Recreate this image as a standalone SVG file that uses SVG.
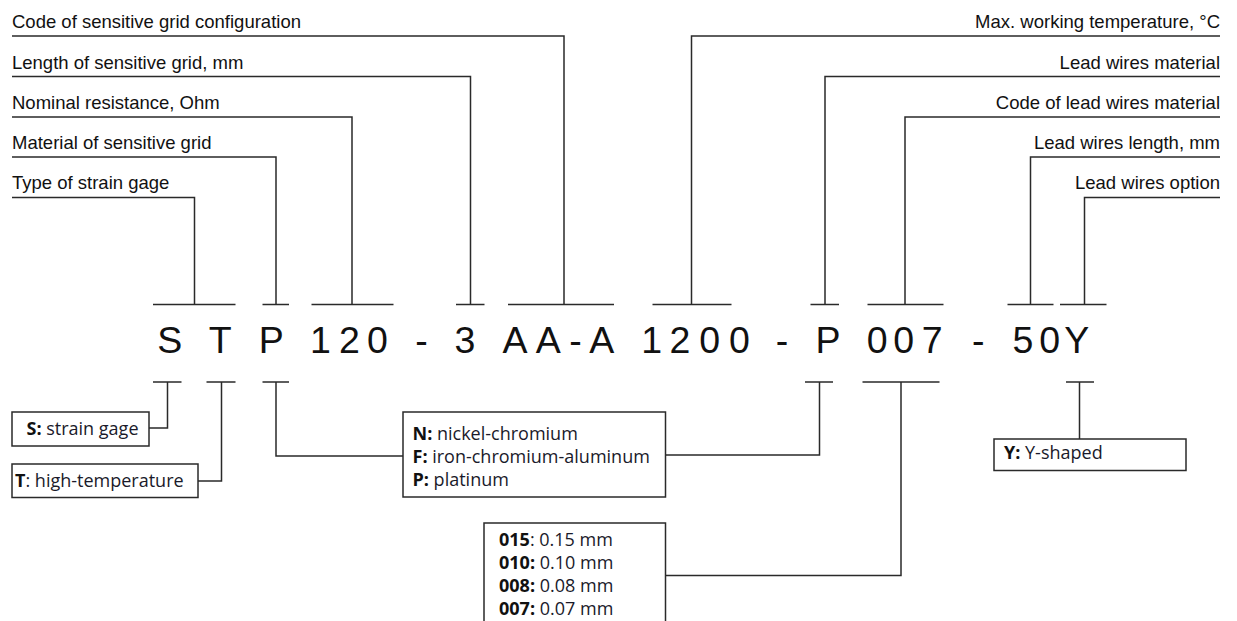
<svg xmlns="http://www.w3.org/2000/svg" width="1237" height="621" viewBox="0 0 1237 621">
<style>
.ln{fill:none;stroke:#2a2a2a;stroke-width:1.5}
.box{fill:#fff;stroke:#2a2a2a;stroke-width:1.5}
.lbl{font-family:"Liberation Sans",Arial,sans-serif;font-size:18.5px;fill:#111}
.r{text-anchor:end}
.code{font-family:"Liberation Sans",Arial,sans-serif;font-size:37.5px;fill:#111;text-anchor:middle}
.opt{font-family:"Open Sans","Noto Sans",sans-serif;font-size:18px;fill:#1a1a2a}
.b{font-weight:700;fill:#111}
</style>
<rect width="1237" height="621" fill="#fff"/>
<g id="connectors">
<!-- top left -->
<path class="ln" d="M12,197.5H194.5V304.5M153,304.5H235.5"/>
<path class="ln" d="M12,157H276V304.5M262.5,304.5H289"/>
<path class="ln" d="M12,117H352V304.5M311.5,304.5H393.5"/>
<path class="ln" d="M12,76.5H470.5V304.5M456,304.5H484.5"/>
<path class="ln" d="M12,36H564V304.5M508,304.5H614"/>
<!-- top right -->
<path class="ln" d="M1220,36H691.5V304.5M652.5,304.5H731.5"/>
<path class="ln" d="M1220,76.5H825V304.5M810.5,304.5H839"/>
<path class="ln" d="M1220,117H905V304.5M867.5,304.5H943.5"/>
<path class="ln" d="M1220,157H1030.5V304.5M1007.5,304.5H1053.5"/>
<path class="ln" d="M1220,197.5H1084.5V304.5M1060,304.5H1106.5"/>
<!-- bottom -->
<path class="ln" d="M153,382H181.5M167.5,382V428H149"/>
<path class="ln" d="M206.5,382H235.5M221.5,382V481H198"/>
<path class="ln" d="M262.5,382H289M276,382V456H403"/>
<path class="ln" d="M805,382H833M819.5,382V455H665.5"/>
<path class="ln" d="M862.5,382H939.5M901,382V575.5H665.5"/>
<path class="ln" d="M1066,382H1094M1079.5,382V439"/>
</g>
<g id="labels-left">
<text class="lbl" x="12" y="28">Code of sensitive grid configuration</text>
<text class="lbl" x="12" y="68.5">Length of sensitive grid, mm</text>
<text class="lbl" x="12" y="108.5">Nominal resistance, Ohm</text>
<text class="lbl" x="12" y="148.5">Material of sensitive grid</text>
<text class="lbl" x="12" y="188.5">Type of strain gage</text>
</g>
<g id="labels-right">
<text class="lbl r" x="1220" y="28">Max. working temperature, °C</text>
<text class="lbl r" x="1220" y="68.5">Lead wires material</text>
<text class="lbl r" x="1220" y="108.5">Code of lead wires material</text>
<text class="lbl r" x="1220" y="148.5">Lead wires length, mm</text>
<text class="lbl r" x="1220" y="188.5">Lead wires option</text>
</g>
<g id="code">
<text class="code" y="353"><tspan x="169.7">S</tspan><tspan x="220.3">T</tspan><tspan x="271.3">P</tspan><tspan x="320.4">1</tspan><tspan x="349.5">2</tspan><tspan x="377.5">0</tspan><tspan x="421.5">-</tspan><tspan x="465">3</tspan><tspan x="515">A</tspan><tspan x="548.3">A</tspan><tspan x="575.5">-</tspan><tspan x="601.7">A</tspan><tspan x="651.7">1</tspan><tspan x="680">2</tspan><tspan x="709.7">0</tspan><tspan x="739.5">0</tspan><tspan x="782">-</tspan><tspan x="828">P</tspan><tspan x="877.2">0</tspan><tspan x="903.8">0</tspan><tspan x="932.2">7</tspan><tspan x="978.3">-</tspan><tspan x="1023">5</tspan><tspan x="1049.7">0</tspan><tspan x="1076.7">Y</tspan></text>
</g>
<g id="node-s">
<rect class="box" x="12" y="412" width="137" height="34"/>
<text class="opt" x="26.5" y="435"><tspan class="b">S:</tspan> strain gage</text>
</g>
<g id="node-t">
<rect class="box" x="12" y="464" width="186" height="33.5"/>
<text class="opt" x="15" y="487"><tspan class="b">T</tspan>: high-temperature</text>
</g>
<g id="node-material">
<rect class="box" x="403" y="412" width="262.5" height="85"/>
<text class="opt" x="412.5" y="440"><tspan class="b">N:</tspan> nickel-chromium</text>
<text class="opt" x="412.5" y="463"><tspan class="b">F:</tspan> iron-chromium-aluminum</text>
<text class="opt" x="412.5" y="485.5"><tspan class="b">P:</tspan> platinum</text>
</g>
<g id="node-length">
<rect class="box" x="484" y="523" width="181.5" height="120"/>
<text class="opt" x="499" y="546"><tspan class="b">015</tspan>: 0.15 mm</text>
<text class="opt" x="499" y="569"><tspan class="b">010:</tspan> 0.10 mm</text>
<text class="opt" x="499" y="592"><tspan class="b">008:</tspan> 0.08 mm</text>
<text class="opt" x="499" y="614.5"><tspan class="b">007:</tspan> 0.07 mm</text>
</g>
<g id="node-y">
<rect class="box" x="994" y="439" width="192" height="31.5"/>
<text class="opt" x="1004" y="458.5"><tspan class="b">Y:</tspan> Y-shaped</text>
</g>
</svg>
